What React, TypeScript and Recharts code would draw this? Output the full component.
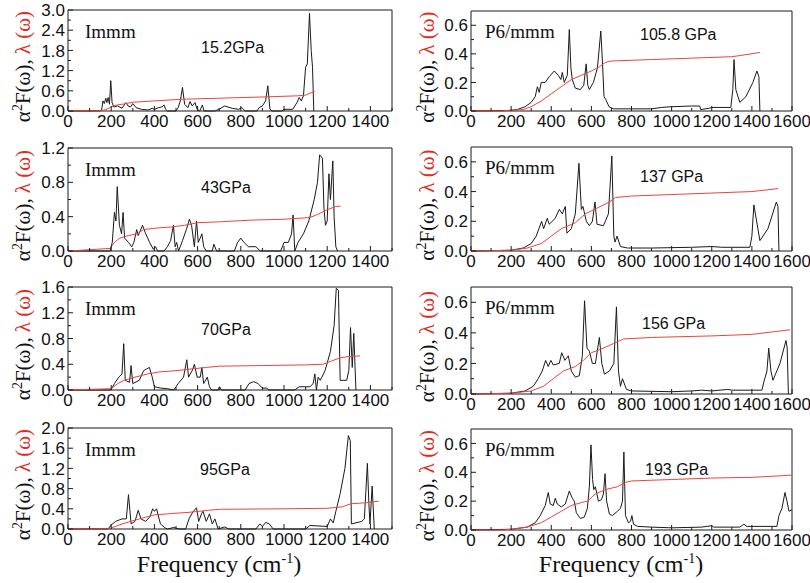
import React from "react";
import { LineChart, Line, XAxis, YAxis, ReferenceArea } from "recharts";

type Pt = [number, number];

// ---------- tick labels ----------
const leftXTicks = [0, 100, 200, 300, 400, 500, 600, 700, 800, 900, 1000, 1100, 1200, 1300, 1400, 1500];
const leftXLabels = [0, 200, 400, 600, 800, 1000, 1200, 1400];
const rightXTicks = [0, 100, 200, 300, 400, 500, 600, 700, 800, 900, 1000, 1100, 1200, 1300, 1400, 1500, 1600];
const rightXLabels = [0, 200, 400, 600, 800, 1000, 1200, 1400, 1600];

const yLabels152 = [0, 0.6, 1.2, 1.8, 2.4, 3.0];
const yMinor152 = [0.3, 0.9, 1.5, 2.1, 2.7];
const yLabels43 = [0, 0.4, 0.8, 1.2];
const yMinor43 = [0.2, 0.6, 1.0];
const yLabels70 = [0, 0.4, 0.8, 1.2, 1.6];
const yMinor70 = [0.2, 0.6, 1.0, 1.4];
const yLabels95 = [0, 0.4, 0.8, 1.2, 1.6, 2.0];
const yMinor95 = [0.2, 0.6, 1.0, 1.4, 1.8];
const yLabelsP6 = [0, 0.2, 0.4, 0.6];
const yMinorP6 = [0.1, 0.3, 0.5];

const phaseLabels = ["Immm", "P6/mmm"];
const pressureLabels = ["15.2GPa", "43GPa", "70GPa", "95GPa", "105.8 GPa", "137 GPa", "156 GPa", "193 GPa"];

// ---------- Immm 15.2 GPa ----------
const a2f152: Pt[] = [[0,0],[100,0],[155,0.01],[162,0.3],[168,0.22],[175,0.38],[180,0.25],[186,0.4],[192,0.2],[198,0.9],[204,0.25],[212,0.12],[230,0.15],[250,0.08],[268,0.25],[278,0.15],[290,0.12],[300,0.22],[315,0.1],[340,0.05],[370,0.03],[390,0.08],[400,0.05],[420,0.1],[435,0.12],[445,0.18],[452,0.05],[460,0],[500,0],[510,0.1],[520,0.3],[530,0.7],[540,0.2],[555,0.1],[565,0.28],[575,0.15],[588,0.25],[598,0.05],[610,0],[622,0.18],[630,0],[680,0],[700,0.05],[725,0.15],[760,0.08],[790,0.05],[805,0.1],[820,0],[875,0],[885,0.1],[900,0.15],[915,0.3],[925,0.75],[935,0.05],[945,0],[990,0],[1000,0.05],[1040,0.05],[1060,0.25],[1070,0.4],[1080,0.3],[1090,0.45],[1100,1.3],[1108,1.4],[1118,2.9],[1126,1.8],[1132,1.3],[1138,0]];
const lam152: Pt[] = [[0,0],[150,0.005],[175,0.04],[200,0.12],[220,0.17],[260,0.21],[300,0.26],[400,0.3],[530,0.35],[700,0.38],[920,0.42],[1060,0.45],[1100,0.47],[1120,0.53],[1142,0.57]];

// ---------- Immm 43 GPa ----------
const a2f43: Pt[] = [[0,0],[195,0],[205,0.1],[215,0.45],[222,0.35],[228,0.75],[238,0.3],[248,0.2],[255,0.45],[262,0.15],[280,0.1],[295,0.05],[305,0.1],[318,0.25],[325,0.18],[332,0.22],[345,0.3],[360,0.2],[378,0.1],[395,0.02],[405,0.05],[415,0],[445,0],[460,0.05],[475,0.12],[488,0.3],[496,0.05],[503,0.1],[512,0],[530,0.12],[548,0.25],[562,0.37],[572,0.3],[585,0.05],[595,0.35],[603,0.1],[612,0.15],[620,0.2],[628,0.05],[640,0],[668,0],[675,0.08],[688,0],[770,0],[785,0.1],[800,0.15],[815,0.1],[835,0.05],[870,0.05],[890,0],[985,0],[1000,0.1],[1020,0.1],[1035,0.2],[1042,0.42],[1050,0],[1065,0.1],[1090,0.2],[1115,0.35],[1140,0.6],[1155,0.8],[1165,1.12],[1178,1.08],[1185,0.5],[1192,0.3],[1200,0.35],[1208,0.9],[1215,0.6],[1226,1.05],[1232,0.4],[1240,0.05],[1248,0]];
const lam43: Pt[] = [[0,0],[195,0.03],[215,0.1],[240,0.15],[280,0.18],[320,0.2],[350,0.25],[420,0.27],[480,0.28],[540,0.3],[600,0.33],[700,0.34],[850,0.36],[1000,0.37],[1120,0.39],[1150,0.42],[1200,0.48],[1240,0.52],[1262,0.52]];

// ---------- Immm 70 GPa ----------
const a2f70: Pt[] = [[0,0],[198,0],[215,0.1],[235,0.2],[250,0.25],[258,0.72],[265,0.15],[285,0.12],[292,0.38],[300,0.1],[330,0.15],[350,0.3],[365,0.33],[377,0.35],[390,0.2],[400,0.05],[430,0.03],[460,0.02],[490,0],[510,0.1],[535,0.2],[550,0.47],[558,0.2],[575,0.3],[585,0.4],[598,0.2],[612,0.2],[620,0.35],[628,0.1],[645,0.2],[655,0.05],[665,0],[695,0],[702,0.05],[710,0],[820,0],[838,0.1],[860,0.13],[880,0.1],[900,0.03],[920,0.03],[930,0],[1050,0],[1070,0.05],[1120,0.05],[1135,0.1],[1143,0.25],[1150,0],[1158,0.2],[1168,0.15],[1190,0.3],[1215,0.6],[1232,1.0],[1242,1.58],[1252,1.55],[1260,0.15],[1290,0.15],[1300,0.3],[1308,0.97],[1316,0.35],[1323,0.88],[1333,0]];
const lam70: Pt[] = [[0,0],[200,0.02],[230,0.1],[260,0.15],[310,0.2],[370,0.25],[420,0.28],[500,0.3],[580,0.33],[640,0.35],[700,0.37],[900,0.38],[1100,0.39],[1180,0.4],[1220,0.45],[1260,0.5],[1300,0.52],[1352,0.53]];

// ---------- Immm 95 GPa ----------
const a2f95: Pt[] = [[0,0],[185,0],[200,0.08],[220,0.15],[250,0.2],[270,0.2],[280,0.68],[292,0.1],[310,0.15],[325,0.37],[338,0.2],[360,0.15],[380,0.25],[392,0.4],[400,0.35],[410,0.4],[428,0.1],[450,0.02],[460,0],[490,0.03],[515,0],[545,0],[560,0.2],[580,0.35],[595,0.42],[605,0.15],[618,0.3],[625,0.35],[640,0.15],[655,0.3],[668,0.1],[680,0.2],[695,0],[725,0.04],[745,0],[870,0],[888,0.1],[900,0.05],[915,0.13],[932,0.1],[950,0],[1100,0],[1120,0.07],[1200,0.05],[1215,0.2],[1228,0.12],[1240,0.35],[1260,0.7],[1282,1.2],[1298,1.85],[1307,1.75],[1312,0.1],[1360,0.15],[1372,0.2],[1386,1.3],[1393,0.5],[1398,0.1],[1408,0.85],[1418,0]];
const lam95: Pt[] = [[0,0],[180,0],[200,0.02],[250,0.1],[330,0.2],[400,0.28],[460,0.3],[560,0.33],[650,0.37],[700,0.39],[1000,0.4],[1200,0.41],[1270,0.44],[1310,0.5],[1380,0.52],[1438,0.55]];

// ---------- P6/mmm 105.8 GPa ----------
const a2f1058: Pt[] = [[0,0],[150,0.002],[200,0.005],[230,0.01],[270,0.03],[300,0.06],[320,0.1],[331,0.17],[340,0.13],[350,0.2],[370,0.2],[390,0.24],[415,0.28],[435,0.25],[448,0.22],[455,0.27],[465,0.2],[480,0.25],[490,0.57],[498,0.3],[505,0.22],[520,0.16],[545,0.15],[562,0.18],[574,0.33],[582,0.18],[590,0.15],[610,0.2],[630,0.3],[647,0.56],[655,0.35],[663,0.1],[672,0.08],[688,0.03],[710,0.015],[900,0.015],[950,0.025],[1000,0.03],[1100,0.035],[1140,0.035],[1145,0.01],[1190,0.02],[1200,0.025],[1295,0.025],[1305,0.15],[1311,0.36],[1320,0.15],[1340,0.06],[1370,0.1],[1405,0.2],[1425,0.28],[1435,0.24],[1440,0]];
const lam1058: Pt[] = [[0,0],[150,0],[200,0.005],[260,0.01],[300,0.03],[350,0.07],[400,0.12],[450,0.17],[500,0.22],[550,0.25],[600,0.28],[640,0.31],[670,0.34],[700,0.35],[900,0.36],[1100,0.37],[1300,0.38],[1350,0.39],[1440,0.41]];

// ---------- P6/mmm 137 GPa ----------
const a2f137: Pt[] = [[0,0],[200,0.005],[260,0.02],[300,0.05],[325,0.1],[352,0.2],[362,0.15],[380,0.22],[390,0.18],[420,0.22],[440,0.28],[455,0.25],[470,0.3],[478,0.12],[500,0.15],[520,0.25],[538,0.59],[550,0.28],[558,0.3],[575,0.2],[590,0.17],[605,0.2],[618,0.33],[628,0.18],[660,0.17],[685,0.25],[702,0.64],[712,0.1],[718,0.06],[728,0.1],[745,0.03],[780,0.02],[900,0.02],[1100,0.025],[1200,0.03],[1250,0.025],[1390,0.025],[1400,0.1],[1410,0.31],[1440,0.07],[1480,0.15],[1522,0.33],[1530,0.3],[1535,0]];
const lam137: Pt[] = [[0,0],[200,0.005],[280,0.02],[350,0.05],[400,0.1],[450,0.15],[520,0.19],[570,0.25],[630,0.29],[690,0.33],[720,0.36],[800,0.37],[1000,0.38],[1200,0.39],[1400,0.4],[1530,0.42]];

// ---------- P6/mmm 156 GPa ----------
const a2f156: Pt[] = [[0,0],[200,0.005],[270,0.02],[310,0.05],[335,0.1],[355,0.15],[372,0.22],[385,0.18],[398,0.22],[410,0.19],[440,0.2],[452,0.27],[468,0.22],[485,0.25],[500,0.15],[520,0.11],[540,0.12],[555,0.25],[566,0.61],[578,0.3],[590,0.28],[605,0.2],[620,0.2],[640,0.37],[652,0.2],[665,0.13],[690,0.15],[712,0.2],[725,0.57],[735,0.15],[745,0.05],[755,0.1],[775,0.03],[800,0.02],[1000,0.015],[1100,0.02],[1150,0.025],[1200,0.02],[1280,0.03],[1300,0.025],[1450,0.025],[1460,0.08],[1475,0.15],[1484,0.3],[1495,0.15],[1505,0.09],[1540,0.2],[1570,0.35],[1576,0.3],[1582,0]];
const lam156: Pt[] = [[0,0],[200,0.005],[300,0.02],[360,0.05],[410,0.1],[460,0.15],[520,0.18],[560,0.22],[600,0.27],[660,0.3],[710,0.33],[760,0.36],[900,0.37],[1200,0.38],[1400,0.39],[1590,0.42]];

// ---------- P6/mmm 193 GPa ----------
const a2f193: Pt[] = [[0,0],[200,0.005],[280,0.02],[320,0.05],[345,0.1],[370,0.17],[385,0.26],[395,0.18],[410,0.17],[420,0.22],[430,0.18],[450,0.16],[470,0.18],[490,0.27],[505,0.22],[515,0.2],[525,0.12],[545,0.08],[565,0.09],[580,0.15],[590,0.3],[598,0.59],[606,0.35],[612,0.28],[620,0.3],[635,0.2],[650,0.21],[660,0.25],[668,0.39],[676,0.2],[690,0.11],[705,0.1],[730,0.13],[745,0.15],[755,0.2],[762,0.54],[770,0.1],[785,0.05],[795,0.06],[802,0.1],[810,0.04],[830,0.025],[900,0.02],[1000,0.015],[1150,0.02],[1200,0.03],[1210,0.02],[1340,0.02],[1360,0.04],[1375,0.025],[1525,0.025],[1535,0.1],[1550,0.15],[1565,0.26],[1575,0.2],[1585,0.13],[1600,0.14]];
const lam193: Pt[] = [[0,0],[150,0],[200,0.005],[280,0.02],[350,0.05],[400,0.09],[450,0.13],[500,0.17],[550,0.19],[580,0.2],[620,0.25],[670,0.28],[730,0.3],[770,0.33],[800,0.34],[1000,0.35],[1200,0.36],[1400,0.365],[1600,0.38]];

// ---------- layout (styles / positions) ----------
const SERIF = "'Liberation Serif', 'Times New Roman', serif";
const SANS = "'Liberation Sans', Arial, sans-serif";
const BLACK = "#1a1a1a";
const RED = "#e8453f";

type Box = { x0: number; x1: number; y0: number; y1: number };

interface PanelProps {
  col: 0 | 1;
  box: Box;
  xMax: number;
  xTicks: number[];
  xLabels: number[];
  yMax: number;
  yLabels: number[];
  yMinor: number[];
  a2f: Pt[];
  lam: Pt[];
}

const near = (list: number[], v: number) => list.some((m) => Math.abs(m - v) < 1e-6);

function Panel({ col, box, xMax, xTicks, xLabels, yMax, yLabels, yMinor, a2f, lam }: PanelProps) {
  const left = col === 0 ? 0 : 400;
  const width = col === 0 ? 400 : 410;
  const top = box.y0 - 20;
  const height = box.y1 - box.y0 + 45;
  const margin = {
    top: 20,
    bottom: 24,
    left: box.x0 - left - 1,
    right: left + width - box.x1,
  };
  const blackData = a2f.map(([f, v]) => ({ f, v }));
  const redData = lam.map(([f, v]) => ({ f, v }));
  const yTicks = [...yLabels, ...yMinor].sort((a, b) => a - b);

  const xTick = (p: any) => {
    const { x, y, payload } = p;
    const v = payload.value;
    const major = near(xLabels, v);
    return (
      <g>
        <line x1={x} x2={x} y1={y} y2={y - (major ? 5 : 3)} stroke={BLACK} strokeWidth={1} />
        {major && (
          <text x={x} y={y + 16} textAnchor="middle" fontSize={17} fontFamily={SANS} fill="#111">
            {v}
          </text>
        )}
      </g>
    );
  };
  const yTick = (p: any) => {
    const { x, y, payload } = p;
    const v = payload.value;
    const major = near(yLabels, v);
    return (
      <g>
        <line x1={x} x2={x + (major ? 5 : 3)} y1={y} y2={y} stroke={BLACK} strokeWidth={1} />
        {major && (
          <text x={x - 3} y={y} dy="0.36em" textAnchor="end" fontSize={17} fontFamily={SANS} fill="#111">
            {v.toFixed(1)}
          </text>
        )}
      </g>
    );
  };

  return (
    <div style={{ position: "absolute", left, top, width, height }}>
      <LineChart width={width} height={height} margin={margin}>
        <XAxis
          dataKey="f"
          type="number"
          domain={[0, xMax]}
          ticks={xTicks}
          interval={0}
          height={1}
          tickSize={0}
          tickMargin={0}
          tickLine={false}
          axisLine={false}
          tick={xTick}
        />
        <YAxis
          type="number"
          domain={[0, yMax]}
          ticks={yTicks}
          interval={0}
          width={1}
          tickSize={0}
          tickMargin={0}
          tickLine={false}
          axisLine={false}
          tick={yTick}
        />
        <ReferenceArea x1={0} x2={xMax} y1={0} y2={yMax} fill="none" fillOpacity={0} stroke={BLACK} strokeWidth={1} strokeOpacity={1} />
        <Line data={blackData} dataKey="v" type="linear" stroke={BLACK} strokeWidth={1} dot={false} activeDot={false} isAnimationActive={false} />
        <Line data={redData} dataKey="v" type="linear" stroke={RED} strokeWidth={1} dot={false} activeDot={false} isAnimationActive={false} />
      </LineChart>
    </div>
  );
}

const leftBoxes: Box[] = [
  { x0: 68, x1: 392, y0: 10, y1: 111 },
  { x0: 68, x1: 392, y0: 148, y1: 251 },
  { x0: 68, x1: 392, y0: 287, y1: 390 },
  { x0: 68, x1: 392, y0: 428, y1: 529 },
];
const rightBoxes: Box[] = [
  { x0: 471, x1: 792, y0: 11, y1: 111 },
  { x0: 471, x1: 792, y0: 147, y1: 251 },
  { x0: 471, x1: 792, y0: 287, y1: 394 },
  { x0: 471, x1: 792, y0: 429, y1: 530 },
];
const pressurePos: [number, number][] = [
  [201, 53], [201, 193], [201, 335], [200, 475],
  [640, 40], [640, 182], [642, 329], [645, 475],
];

function YTitle({ x, cy }: { x: number; cy: number }) {
  return (
    <text transform={`translate(${x},${cy}) rotate(-90)`} textAnchor="middle" fontFamily={SERIF} fontSize={21} fill="#111">
      α<tspan dy={-8} fontSize={14}>2</tspan>
      <tspan dy={8}>F(ω), </tspan>
      <tspan fill="#e02a22">λ (ω)</tspan>
    </text>
  );
}

function XTitle({ cx, y }: { cx: number; y: number }) {
  return (
    <text x={cx} y={y} textAnchor="middle" fontFamily={SERIF} fontSize={24} fill="#111">
      Frequency (cm<tspan dy={-9} fontSize={14}>-1</tspan>
      <tspan dy={9}>)</tspan>
    </text>
  );
}

export default function App() {
  const leftYl = [
    { labels: yLabels152, minor: yMinor152, max: 3.0, a2f: a2f152, lam: lam152 },
    { labels: yLabels43, minor: yMinor43, max: 1.2, a2f: a2f43, lam: lam43 },
    { labels: yLabels70, minor: yMinor70, max: 1.6, a2f: a2f70, lam: lam70 },
    { labels: yLabels95, minor: yMinor95, max: 2.0, a2f: a2f95, lam: lam95 },
  ];
  const rightSeries = [
    { a2f: a2f1058, lam: lam1058 },
    { a2f: a2f137, lam: lam137 },
    { a2f: a2f156, lam: lam156 },
    { a2f: a2f193, lam: lam193 },
  ];
  return (
    <div style={{ position: "absolute", left: 0, top: 0, width: 810, height: 583, background: "#fff", overflow: "hidden" }}>
      {leftYl.map((s, i) => (
        <Panel
          key={"l" + i}
          col={0}
          box={leftBoxes[i]}
          xMax={1500}
          xTicks={leftXTicks}
          xLabels={leftXLabels}
          yMax={s.max}
          yLabels={s.labels}
          yMinor={s.minor}
          a2f={s.a2f}
          lam={s.lam}
        />
      ))}
      {rightSeries.map((s, i) => (
        <Panel
          key={"r" + i}
          col={1}
          box={rightBoxes[i]}
          xMax={1600}
          xTicks={rightXTicks}
          xLabels={rightXLabels}
          yMax={0.7}
          yLabels={yLabelsP6}
          yMinor={yMinorP6}
          a2f={s.a2f}
          lam={s.lam}
        />
      ))}
      <svg width={810} height={583} style={{ position: "absolute", left: 0, top: 0, pointerEvents: "none" }}>
        {leftBoxes.map((b, i) => (
          <g key={"lt" + i}>
            <YTitle x={30} cy={(b.y0 + b.y1) / 2 + 6} />
            <text x={b.x0 + 17} y={b.y0 + 28} fontFamily={SERIF} fontSize={19} fill="#111">
              {phaseLabels[0]}
            </text>
            <text x={pressurePos[i][0]} y={pressurePos[i][1]} fontFamily={SANS} fontSize={16} fill="#111">
              {pressureLabels[i]}
            </text>
          </g>
        ))}
        {rightBoxes.map((b, i) => (
          <g key={"rt" + i}>
            <YTitle x={434} cy={(b.y0 + b.y1) / 2 + 6} />
            <text x={b.x0 + 14} y={b.y0 + 27} fontFamily={SERIF} fontSize={19} fill="#111">
              {phaseLabels[1]}
            </text>
            <text x={pressurePos[4 + i][0]} y={pressurePos[4 + i][1]} fontFamily={SANS} fontSize={16} fill="#111">
              {pressureLabels[4 + i]}
            </text>
          </g>
        ))}
        <XTitle cx={219} y={572} />
        <XTitle cx={621} y={572} />
      </svg>
    </div>
  );
}
